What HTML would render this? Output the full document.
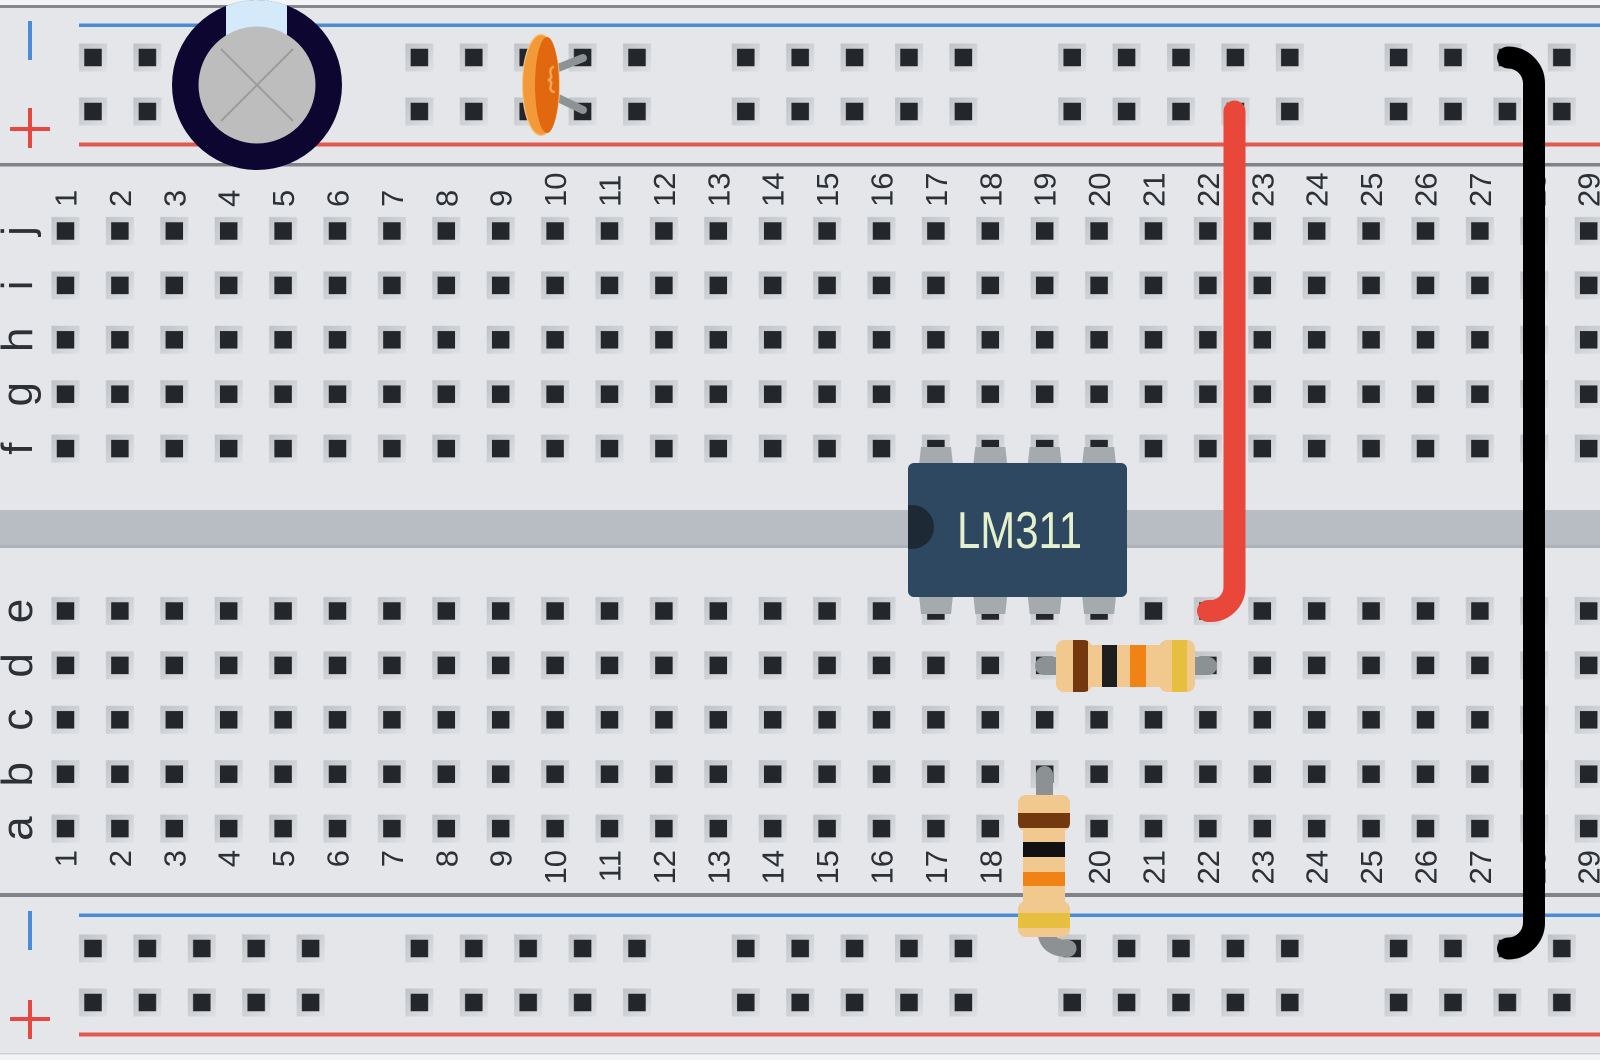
<!DOCTYPE html>
<html>
<head>
<meta charset="utf-8">
<style>
html,body{margin:0;padding:0;background:#f3f4f5;}
svg{display:block;}
</style>
</head>
<body>
<svg width="1600" height="1060" viewBox="0 0 1600 1060" xmlns="http://www.w3.org/2000/svg" font-family="'Liberation Sans', sans-serif">
<defs>
  <linearGradient id="hg" x1="0" y1="0" x2="1" y2="1">
    <stop offset="0" stop-color="#bfc2c6"/>
    <stop offset="1" stop-color="#dfe1e4"/>
  </linearGradient>
  <g id="h">
    <rect x="-14" y="-14" width="28" height="28" fill="url(#hg)"/>
    <rect x="-8.75" y="-8.75" width="17.5" height="17.5" fill="#23272c"/>
  </g>
  <pattern id="pm1" patternUnits="userSpaceOnUse" x="38.3" y="203.8" width="54.4" height="54.4">
    <use href="#h" x="27.2" y="27.2"/>
  </pattern>
  <pattern id="pm2" patternUnits="userSpaceOnUse" x="38.3" y="583.8" width="54.4" height="54.4">
    <use href="#h" x="27.2" y="27.2"/>
  </pattern>
  <pattern id="pr1" patternUnits="userSpaceOnUse" x="65.8" y="30.5" width="326.4" height="108">
    <use href="#h" x="27.2" y="27"/><use href="#h" x="81.6" y="27"/><use href="#h" x="136" y="27"/><use href="#h" x="190.4" y="27"/><use href="#h" x="244.8" y="27"/>
    <use href="#h" x="27.2" y="81"/><use href="#h" x="81.6" y="81"/><use href="#h" x="136" y="81"/><use href="#h" x="190.4" y="81"/><use href="#h" x="244.8" y="81"/>
  </pattern>
  <pattern id="pr2" patternUnits="userSpaceOnUse" x="65.8" y="921.5" width="326.4" height="108">
    <use href="#h" x="27.2" y="27"/><use href="#h" x="81.6" y="27"/><use href="#h" x="136" y="27"/><use href="#h" x="190.4" y="27"/><use href="#h" x="244.8" y="27"/>
    <use href="#h" x="27.2" y="81"/><use href="#h" x="81.6" y="81"/><use href="#h" x="136" y="81"/><use href="#h" x="190.4" y="81"/><use href="#h" x="244.8" y="81"/>
  </pattern>
  <clipPath id="ec"><circle cx="257" cy="85" r="85"/></clipPath>
  <clipPath id="chipc"><rect x="908" y="463" width="219" height="134" rx="6"/></clipPath>
  <clipPath id="rh">
    <rect x="1056" y="640" width="36" height="52" rx="8"/>
    <rect x="1159" y="640" width="36" height="52" rx="8"/>
    <rect x="1085" y="645" width="80" height="42"/>
  </clipPath>
  <clipPath id="rv">
    <rect x="1018" y="795" width="52" height="36" rx="8"/>
    <rect x="1018" y="901" width="52" height="36" rx="8"/>
    <rect x="1023" y="824" width="42" height="82"/>
  </clipPath>
</defs>

<!-- board -->
<rect x="0" y="0" width="1600" height="1060" fill="#f3f4f5"/>
<rect x="0" y="5" width="1600" height="1049" fill="#e4e6e9"/>
<rect x="0" y="5" width="1600" height="3" fill="#85888c"/>
<rect x="79" y="23.5" width="1521" height="3.5" fill="#4a8dd6"/>
<rect x="79" y="142.5" width="1521" height="4" fill="#e05a50"/>
<rect x="0" y="163" width="1600" height="3.5" fill="#808388"/>
<rect x="0" y="510" width="1600" height="38" fill="#b8bdc3"/>
<rect x="0" y="545" width="1600" height="3" fill="#aeb3b9"/>
<rect x="0" y="893" width="1600" height="4" fill="#808388"/>
<rect x="79" y="913.5" width="1521" height="3.5" fill="#4a8dd6"/>
<rect x="79" y="1032.5" width="1521" height="4" fill="#e05a50"/>
<rect x="0" y="1053" width="1600" height="1.5" fill="#cfd2d5"/>

<!-- rail signs -->
<rect x="28" y="21" width="4" height="39" fill="#4a8dd6"/>
<rect x="10" y="127" width="40" height="4" fill="#e5483e"/>
<rect x="28" y="108" width="4" height="40" fill="#e5483e"/>
<rect x="28" y="911" width="4" height="39" fill="#4a8dd6"/>
<rect x="10" y="1017" width="40" height="4" fill="#e5483e"/>
<rect x="28" y="1000" width="4" height="39" fill="#e5483e"/>

<!-- holes -->
<rect x="38.3" y="203.8" width="1561.7" height="272" fill="url(#pm1)"/>
<rect x="38.3" y="583.8" width="1561.7" height="272" fill="url(#pm2)"/>
<rect x="65.8" y="30.5" width="1534.2" height="108" fill="url(#pr1)"/>
<rect x="65.8" y="921.5" width="1534.2" height="108" fill="url(#pr2)"/>

<!-- labels -->
<g transform="rotate(-90)" fill="#2d3034" font-size="31">
  <g text-anchor="start">
    <text x="-207" y="76.5">1</text><text x="-207" y="130.9">2</text><text x="-207" y="185.3">3</text><text x="-207" y="239.7">4</text><text x="-207" y="294.1">5</text>
    <text x="-207" y="348.5">6</text><text x="-207" y="402.9">7</text><text x="-207" y="457.3">8</text><text x="-207" y="511.7">9</text><text x="-207" y="566.1">10</text>
    <text x="-207" y="620.5">11</text><text x="-207" y="674.9">12</text><text x="-207" y="729.3">13</text><text x="-207" y="783.7">14</text><text x="-207" y="838.1">15</text>
    <text x="-207" y="892.5">16</text><text x="-207" y="946.9">17</text><text x="-207" y="1001.3">18</text><text x="-207" y="1055.7">19</text><text x="-207" y="1110.1">20</text>
    <text x="-207" y="1164.5">21</text><text x="-207" y="1218.9">22</text><text x="-207" y="1273.3">23</text><text x="-207" y="1327.7">24</text><text x="-207" y="1382.1">25</text>
    <text x="-207" y="1436.5">26</text><text x="-207" y="1490.9">27</text><text x="-207" y="1545.3">28</text><text x="-207" y="1599.7">29</text>
  </g>
  <g text-anchor="end">
    <text x="-850" y="76.5">1</text><text x="-850" y="130.9">2</text><text x="-850" y="185.3">3</text><text x="-850" y="239.7">4</text><text x="-850" y="294.1">5</text>
    <text x="-850" y="348.5">6</text><text x="-850" y="402.9">7</text><text x="-850" y="457.3">8</text><text x="-850" y="511.7">9</text><text x="-850" y="566.1">10</text>
    <text x="-850" y="620.5">11</text><text x="-850" y="674.9">12</text><text x="-850" y="729.3">13</text><text x="-850" y="783.7">14</text><text x="-850" y="838.1">15</text>
    <text x="-850" y="892.5">16</text><text x="-850" y="946.9">17</text><text x="-850" y="1001.3">18</text><text x="-850" y="1055.7">19</text><text x="-850" y="1110.1">20</text>
    <text x="-850" y="1164.5">21</text><text x="-850" y="1218.9">22</text><text x="-850" y="1273.3">23</text><text x="-850" y="1327.7">24</text><text x="-850" y="1382.1">25</text>
    <text x="-850" y="1436.5">26</text><text x="-850" y="1490.9">27</text><text x="-850" y="1545.3">28</text><text x="-850" y="1599.7">29</text>
  </g>
  <g text-anchor="middle" font-size="44">
    <text x="-231" y="32">j</text><text x="-285.4" y="32">i</text><text x="-339.8" y="32">h</text><text x="-394.2" y="32">g</text><text x="-448.6" y="32">f</text>
    <text x="-611" y="32">e</text><text x="-665.4" y="32">d</text><text x="-719.8" y="32">c</text><text x="-774.2" y="32">b</text><text x="-828.6" y="32">a</text>
  </g>
</g>

<!-- electrolytic capacitor -->
<circle cx="257" cy="85" r="85" fill="#0c0631"/>
<rect x="226" y="-5" width="61" height="50" fill="#d4eafa" clip-path="url(#ec)"/>
<circle cx="257" cy="85" r="58.5" fill="#bdbdbd"/>
<line x1="221" y1="49" x2="293" y2="121" stroke="#9b9b9b" stroke-width="2"/>
<line x1="293" y1="49" x2="221" y2="121" stroke="#9b9b9b" stroke-width="2"/>

<!-- ceramic capacitor -->
<line x1="558" y1="68" x2="583" y2="58" stroke="#8d9295" stroke-width="8" stroke-linecap="round"/>
<line x1="558" y1="98" x2="583" y2="110" stroke="#8d9295" stroke-width="8" stroke-linecap="round"/>
<ellipse cx="541" cy="85" rx="18.5" ry="50.5" fill="#f29a3a" stroke="#f7c488" stroke-width="1.2"/>
<ellipse cx="547" cy="85" rx="12" ry="48" fill="#e2680f"/>
<path d="M553,67 Q549,69 551,75 Q552,79 548,80 Q552,81 551,85 Q549,91 554,92" stroke="#f5a553" stroke-width="2.5" fill="none" stroke-linecap="round"/>

<!-- LM311 chip -->
<g fill="#a4aaae">
  <path d="M921,447 H951 L953,465 H919 Z"/>
  <path d="M975.3,447 H1005.3 L1007.3,465 H973.3 Z"/>
  <path d="M1029.7,447 H1059.7 L1061.7,465 H1027.7 Z"/>
  <path d="M1084.1,447 H1114.1 L1116.1,465 H1082.1 Z"/>
  <path d="M919,595 H953 L951,614 H921 Z"/>
  <path d="M973.3,595 H1007.3 L1005.3,614 H975.3 Z"/>
  <path d="M1027.7,595 H1061.7 L1059.7,614 H1029.7 Z"/>
  <path d="M1082.1,595 H1116.1 L1114.1,614 H1084.1 Z"/>
</g>
<rect x="908" y="463" width="219" height="134" rx="6" fill="#2e4861"/>
<circle cx="912" cy="527" r="22" fill="#1d2a36" clip-path="url(#chipc)"/>
<text x="1019.5" y="548" font-size="52" fill="#e5f0cc" text-anchor="middle" textLength="125" lengthAdjust="spacingAndGlyphs">LM311</text>

<!-- horizontal resistor -->
<rect x="1035" y="657" width="182" height="18" rx="9" fill="#8c9194"/>
<g clip-path="url(#rh)">
  <rect x="1050" y="635" width="150" height="60" fill="#f1c88d"/>
  <rect x="1073" y="635" width="15" height="60" fill="#74380f"/>
  <rect x="1102" y="635" width="15" height="60" fill="#1e1e1e"/>
  <rect x="1130" y="635" width="16" height="60" fill="#f08216"/>
  <rect x="1172" y="635" width="15" height="60" fill="#e6bf3e"/>
</g>

<!-- vertical resistor -->
<rect x="1036" y="766" width="17" height="36" rx="8.5" fill="#8c9194"/>
<path d="M1046,930 Q1046,948.5 1068,948.5" stroke="#8c9194" stroke-width="17" fill="none" stroke-linecap="round"/>
<g clip-path="url(#rv)">
  <rect x="1015" y="790" width="60" height="150" fill="#f1c88d"/>
  <rect x="1015" y="813" width="60" height="15" fill="#74380f"/>
  <rect x="1015" y="842" width="60" height="15" fill="#111111"/>
  <rect x="1015" y="872" width="60" height="14" fill="#f08216"/>
  <rect x="1015" y="913" width="60" height="15" fill="#e6bf3e"/>
</g>

<!-- wires -->
<path d="M1234.5,111.5 V587 A24,24 0 0 1 1210.5,611 H1208" stroke="#e8473a" stroke-width="22" fill="none" stroke-linecap="round" stroke-linejoin="round"/>
<path d="M1508,57.5 A26,26 0 0 1 1534,83.5 V922.5 A26,26 0 0 1 1508,948.5" stroke="#000000" stroke-width="22" fill="none" stroke-linecap="round"/>
</svg>
</body>
</html>
